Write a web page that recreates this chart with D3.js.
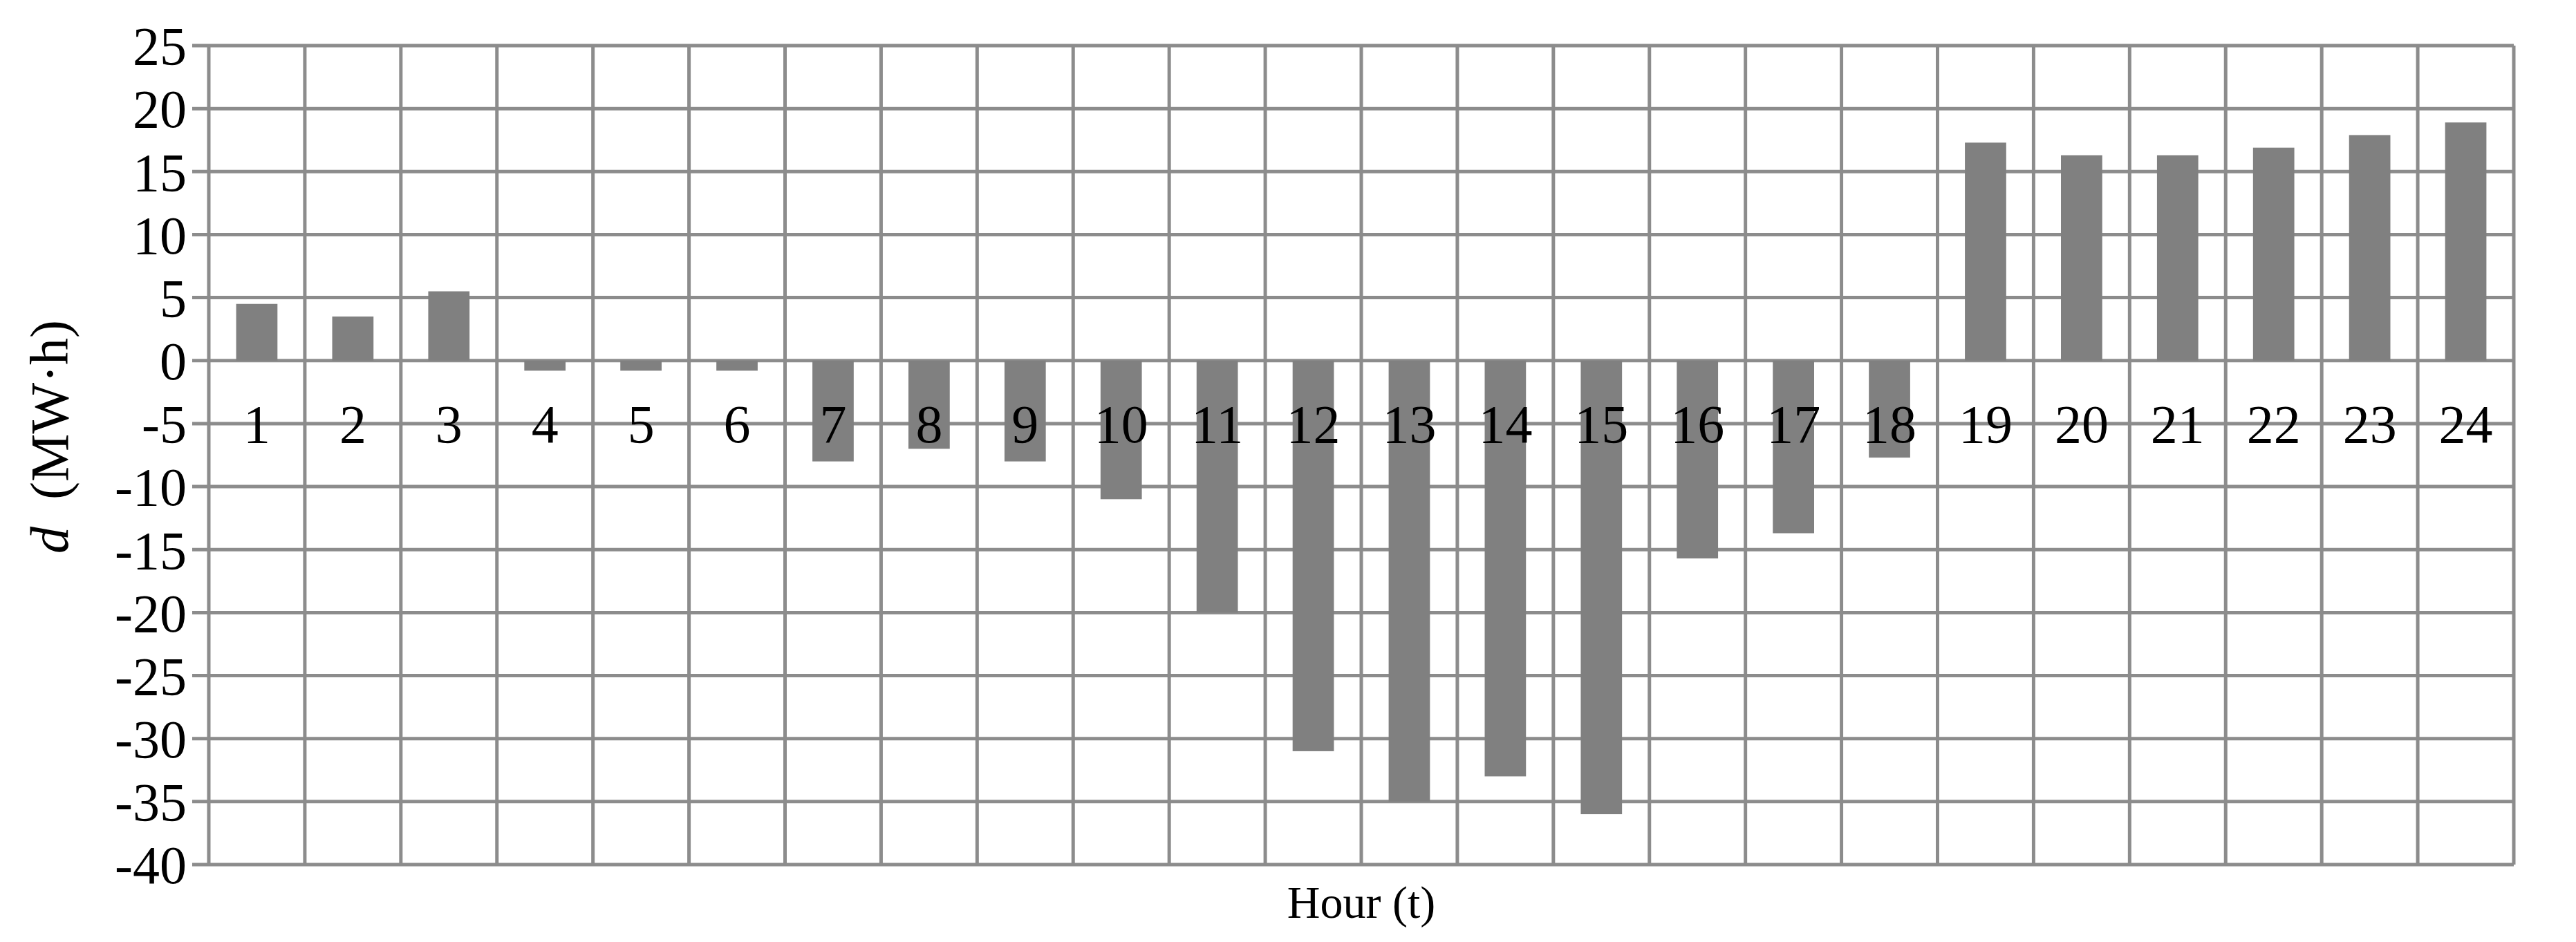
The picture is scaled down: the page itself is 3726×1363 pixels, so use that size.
<!DOCTYPE html>
<html><head><meta charset="utf-8">
<script src="https://cdn.jsdelivr.net/npm/d3@7"></script>
<style>body{margin:0;background:#fff}</style></head>
<body><svg id="c" width="3726" height="1363"></svg>
<script>
const hours = d3.range(1,25).map(String);
const values = [4.5,3.5,5.5,-0.8,-0.8,-0.8,-8,-7,-8,-11,-20,-31,-35,-33,-36,-15.7,-13.7,-7.7,17.3,16.3,16.3,16.9,17.9,18.9];
const yTicks = [25,20,15,10,5,0,-5,-10,-15,-20,-25,-30,-35,-40];

const L=302,R=3636,T=66,B=1251;
const svg=d3.select("#c");
const x=d3.scaleBand().domain(hours).range([L,R]).paddingInner(0).paddingOuter(0);
const y=d3.scaleLinear().domain([-40,25]).range([B,T]);
const grid="#8c8c8c", font="Liberation Serif, Times New Roman, serif";

svg.append("g").selectAll("line").data(yTicks).join("line")
  .attr("x1",L-24).attr("x2",R).attr("y1",d=>y(d)).attr("y2",d=>y(d))
  .attr("stroke",grid).attr("stroke-width",5);
const xs=hours.map(h=>x(h)).concat([R]);
svg.append("g").selectAll("line").data(xs).join("line")
  .attr("x1",d=>d).attr("x2",d=>d).attr("y1",T).attr("y2",B)
  .attr("stroke",grid).attr("stroke-width",5);

const bw=x.bandwidth()*0.43;
svg.append("g").selectAll("rect").data(values).join("rect")
  .attr("x",(d,i)=>x(hours[i])+x.bandwidth()/2-bw/2)
  .attr("width",bw)
  .attr("y",d=>y(Math.max(0,d)))
  .attr("height",d=>Math.abs(y(d)-y(0)))
  .attr("fill","#808080");

svg.append("g").selectAll("text").data(yTicks).join("text")
  .attr("x",270).attr("y",d=>y(d)).attr("dy","0.35em")
  .attr("text-anchor","end").attr("font-family",font).attr("font-size",78)
  .text(d=>d);
svg.append("g").selectAll("text").data(hours).join("text")
  .attr("x",h=>x(h)+x.bandwidth()/2).attr("y",y(0)+118)
  .attr("text-anchor","middle").attr("font-family",font).attr("font-size",78)
  .text(d=>d);
svg.append("text").attr("x",(L+R)/2).attr("y",1328).attr("text-anchor","middle")
  .attr("font-family",font).attr("font-size",66).text("Hour (t)");
const yt=svg.append("text").attr("transform","translate(98,632) rotate(-90)")
  .attr("text-anchor","middle").attr("font-family",font).attr("font-size",78);
yt.append("tspan").attr("font-style","italic").text("d");
yt.append("tspan").text("\u00a0 (MW·h)");
</script></body></html>
